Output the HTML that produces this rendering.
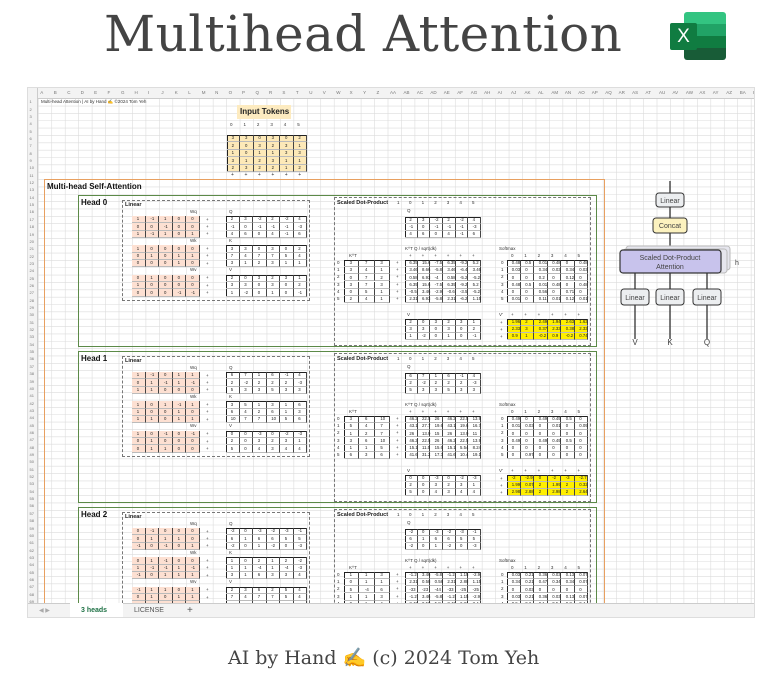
<!DOCTYPE html>
<html><head><meta charset="utf-8"><style>
body{margin:0;width:771px;height:676px;background:#fff;position:relative;overflow:hidden;font-family:"Liberation Sans",sans-serif}
.a{position:absolute;box-sizing:border-box}
.t{position:absolute;white-space:nowrap;line-height:1}
</style></head><body>
<div class="t" style="left:104px;top:9px;font-family:'DejaVu Serif',serif;font-size:50px;letter-spacing:0.4px;color:#444">Multihead Attention</div>
<div class="a" style="left:684px;top:12px;width:42px;height:48px;border-radius:3px;background:linear-gradient(#33c481 0 25%,#21a366 25% 50%,#107c41 50% 75%,#185c37 75%)"></div>
<div class="a" style="left:670px;top:23px;width:27px;height:27px;background:#107c41;border-radius:2px;color:#fff;font-size:19px;text-align:center;line-height:27px">X</div>
<div id="sheet" class="a" style="left:27px;top:87px;width:728px;height:531px;overflow:hidden;border:1px solid #ddd"></div>
<div class="t" style="left:228px;top:649px;font-family:'DejaVu Serif',serif;font-size:19px;color:#444">AI by Hand ✍ (c) 2024 Tom Yeh</div>
<script>
const S=document.getElementById('sheet');
const OX=27,OY=87;
function box(x,y,w,h,st,name){const d=document.createElement('div');d.className='a';d.style.cssText=`left:${x-OX}px;top:${y-OY}px;width:${w}px;height:${h}px;`+(st||'');


S.appendChild(d);return d;}
function txt(x,y,s,sz,st,name){const d=document.createElement('div');d.className='t';d.textContent=s;d.style.cssText=`left:${x-OX}px;top:${y-OY}px;font-size:${sz}px;`+(st||'');


S.appendChild(d);return d;}
const CW=13.45,RH=7.35,C0=37.3,R0=97.7;
let g='';
for(let c=0;c<55;c++){const x=C0+c*CW-OX;g+=`<line x1="${x}" y1="0" x2="${x}" y2="515" stroke="#dcdcdc" stroke-width="0.6"/>`;}
for(let r=0;r<72;r++){const y=R0+r*RH-OY;g+=`<line x1="0" y1="${y}" x2="728" y2="${y}" stroke="#dcdcdc" stroke-width="0.6"/>`;}
const sv=document.createElementNS('http://www.w3.org/2000/svg','svg');sv.setAttribute('width','728');sv.setAttribute('height','531');sv.style.cssText='position:absolute;left:0;top:0';sv.innerHTML=g;


S.appendChild(sv);
box(27,87,728,10.7,'background:#f3f3f3;border-bottom:1px solid #ccc','column-header-bar');
box(27,87,10.3,515,'background:#f3f3f3;border-right:1px solid #ccc','row-header-bar');
const L='ABCDEFGHIJKLMNOPQRSTUVWXYZ';
for(let c=0;c<54;c++){const n=c<26?L[c]:L[Math.floor(c/26)-1]+L[c%26];txt(C0+c*CW+2,89.5,n,4.5,'color:#777','column-label');}
for(let r=1;r<=70;r++)txt(28.5,R0+(r-1)*RH+1.5,String(r),4,'color:#777','row-label');
txt(40,99,'Multi-head Attention | AI by Hand ✍ ©2024 Tom Yeh',4.5,'color:#333','sheet-title-cell');
box(236,104,54,14,'background:#fdebc0','input-tokens-label');
txt(239,106.5,'Input Tokens',8,'font-weight:bold;color:#222','input-tokens-text');
const tokens=[[3,3,0,3,0,2],[2,0,3,2,3,1],[1,0,1,1,3,3],[3,1,2,3,1,1],[2,3,2,2,1,2]];
function mat(x,y,w,h,vals,st,name){const R=vals.length,C=vals[0].length,cw=w/C,rh=h/R;
 const b=box(x,y,w,h,'border:1px solid #222;'+(st||''),name);
 for(let i=0;i<R;i++)for(let j=0;j<C;j++){box(x+j*cw,y+i*rh,cw,rh,'border-right:0.5px solid #444;border-bottom:0.5px solid #bbb',name+'-cell');
  txt(x+j*cw+cw/2-2,y+i*rh+1.3,String(vals[i][j]),4.3,'color:#222',name+'-value');}
 return b;}
['0','1','2','3','4','5'].forEach((s,i)=>txt(229+i*13.45,122,s,4.5,'color:#333','token-index'));
mat(226,134,80,37,tokens,'background:#fde9b8','input-tokens-matrix');
for(let i=0;i<6;i++)txt(230+i*13.45,172,'+',5,'color:#333','plus-sign');
box(43,178,561,440,'border:1.5px solid #e8a060','multihead-frame');
txt(46,182,'Multi-head Self-Attention',8,'font-weight:bold;color:#111','multihead-title');
const W=[
 [[[1,-1,1,0,0],[0,0,-1,0,0],[1,-1,1,0,1]],[[1,0,0,0,0],[0,1,0,1,1],[0,0,0,1,0]],[[0,1,0,0,0],[1,0,0,0,0],[0,0,0,-1,-1]]],
 [[[1,-1,0,1,1],[0,1,-1,1,-1],[1,1,0,0,0]],[[1,0,1,-1,1],[1,0,0,1,0],[1,1,0,1,1]],[[1,0,-1,0,-1],[0,1,0,0,0],[0,1,1,0,0]]],
 [[[0,-1,0,0,0],[0,1,1,1,0],[-1,0,-1,0,1]],[[0,1,-1,0,0],[1,-1,-1,1,-1],[-1,0,1,1,1]],[[-1,1,1,0,1],[0,1,0,1,1],[1,0,0,1,0]]]];
const QKV=[
 [[[2,3,-2,2,-2,4],[-1,0,-1,-1,-1,-3],[4,6,0,4,-1,6]],[[3,3,0,3,0,2],[7,4,7,7,5,4],[3,1,2,3,1,1]],[[2,0,3,2,3,1],[3,3,0,3,0,2],[1,-2,0,1,0,-1]]],
 [[[6,7,1,6,-1,4],[2,-2,2,2,2,-3],[5,3,3,5,3,3]],[[3,5,1,3,1,6],[6,4,2,6,1,3],[10,7,7,10,5,6]],[[0,0,-3,0,-2,-3],[2,0,3,2,3,1],[5,0,4,3,4,4]]],
 [[[-2,0,-3,-2,-3,-1],[6,1,6,6,5,5],[-2,0,1,-2,0,-3]],[[1,0,2,1,2,-2],[1,1,-4,1,-4,-3],[3,1,6,3,3,4]],[[2,3,6,2,5,4],[7,4,7,7,5,4],[1,0,2,1,2,1]]]];
const KT=[[[3,7,3],[3,4,1],[0,7,2],[3,7,3],[0,5,1],[2,4,1]],[[3,6,10],[5,4,7],[1,2,7],[3,6,10],[1,1,5],[6,3,6]],[[1,1,3],[0,1,1],[5,-4,6],[1,1,3],[0,1,4],[2,1,3]]];
const SC=[[[6.35,15.6,-7.5,6.35,-9.2,5.2],[3.46,8.66,-5.8,3.46,-6.4,3.46],[0.58,6.93,-4,0.58,-5.2,-5.2],[6.35,15.6,-7.5,6.35,-9.2,5.2],[-0.5,3.46,-2.9,-0.6,-3.5,-5.2],[2.31,6.93,-5.8,2.31,-6.2,1.15]],
 [[46.2,22.5,26,46.2,22.5,13.9],[43.1,27.7,19.6,43.1,19.6,16.7],[26,13.9,15,26,13.9,11],[46.2,22.5,26,46.2,22.5,13.9],[15.1,11.5,15.6,15.1,5.54,8.24],[41.6,31.2,17.3,41.6,10.4,19.1]],
 [[-1.2,3.46,-5.8,-1.2,1.15,-2.9],[2.31,0.58,0.58,2.31,2.88,1.15],[-33,-23,-44,-33,-25,-25],[-1.2,3.46,-5.8,-1.2,1.15,-2.9],[3.46,0.58,5.8,3.46,2.31,3.4],[1.2,3.46,-5.8,1.2,1.15,2.9]]];
const SM=[[[0.48,0.5,0.01,0.48,0,0.48],[0.03,0,0.34,0.03,0.34,0.03],[0,0,0.2,0,0.12,0],[0.48,0.5,0.01,0.48,0,0.48],[0,0,0.56,0,0.71,0],[0.01,0,0.11,0.01,0.12,0.01]],
 [[0.49,0,0.49,0.49,0.5,0],[0.01,0.03,0,0.01,0,0.09],[0,0,0,0,0,0],[0.49,0,0.49,0.49,0.5,0],[0,0,0,0,0,0],[0,0.97,0,0,0,0]],
 [[0.03,0.21,0.36,0.03,0.13,0.07],[0.34,0.21,0.47,0.34,0.34,0.07],[0,0.03,0,0,0,0],[0.03,0.21,0.36,0.03,0.13,0.07],[0.5,0.2,0.1,0.5,0.3,0.4],[0.03,0.21,0.36,0.03,0.13,0.07]]];
const OUT=[[[1.96,2,2.49,1.94,2.63,1.63],[2.33,3,0.37,2.33,0.38,2.33],[0.9,1,-0.2,0.9,-0.2,0.74]],
 [[-2,-2.9,0,-2,-3,-2.7],[1.99,0.07,2,1.99,2,0.32],[2.98,2.88,2,2.98,2,2.64]],
 [[1.3,2.1,0.9,1.3,1.1,1.2],[2.4,3.1,2.2,2.4,2.9,2.5],[0.8,0.2,0.5,0.8,0.4,0.3]]];
const dash='border:1px dashed #777;';
for(let h=0;h<3;h++){
 const T=194+h*156;
 box(77,T,519,152,'border:1.5px solid #5c8a48','head-frame-'+h);
 txt(80,T+4,'Head '+h,8,'font-weight:bold;color:#111','head-title-'+h);
 box(121,T+5,188,101,dash,'linear-panel');
 txt(124,T+8,'Linear',5.5,'font-weight:bold;color:#222','linear-label');
 ['Wq','Wk','Wv'].forEach((n,k)=>{const y=T+21+k*29.4;
  txt(189,y-6.5,n,4.5,'color:#333','weight-label');
  mat(131,y,68,22,W[h][k],'background:#fde0d2;border:none','weight-matrix-'+n);
  for(let i=0;i<3;i++)txt(205,y+1.5+i*7.35,'+',4.5,'color:#333','plus-sign');
  txt(228,y-6.5,['Q','K','V'][k],4.5,'color:#333','proj-label');
  mat(225,y,81,22,QKV[h][k],'background:#fff','proj-matrix-'+['q','k','v'][k]);
 });
 box(333,T+2,257,149,dash,'scaled-dot-panel');
 txt(336,T+6,'Scaled Dot-Product',5.5,'font-weight:bold;color:#222','scaled-dot-label');
 txt(396,T+6,'1',4.5,'color:#333','scale-one');
 for(let i=0;i<6;i++)txt(408+i*12.6,T+6,String(i),4.5,'color:#333','token-index');
 txt(406,T+14,'Q',4.5,'color:#333','q-label');
 mat(404,T+22,76,21,QKV[h][0],'background:#fff','q-copy');
 txt(404,T+52,'K^T Q / sqrt(dk)',4.5,'color:#333','score-label');
 txt(348,T+59,'K^T',4.5,'color:#333','kt-label');
 txt(498,T+52,'Softmax',4.5,'color:#333','softmax-label');
 for(let i=0;i<6;i++){txt(408+i*12.6,T+59,'+',4.5,'color:#333','plus-sign');txt(510+i*13.3,T+59,String(i),4.5,'color:#333','token-index');}
 for(let i=0;i<6;i++){txt(336,T+66+i*7.2,String(i),4.5,'color:#333','row-index');txt(395,T+66+i*7.2,'+',4.5,'color:#333','plus-sign');txt(500,T+66+i*7.2,String(i),4.5,'color:#333','row-index');}
 mat(343,T+65,46,43,KT[h],'background:#fff','kt-matrix');
 mat(404,T+65,76,43,SC[h],'background:#fff','score-matrix');
 mat(506,T+65,81,43,SM[h],'background:#fff','softmax-matrix');
 txt(406,T+118,'V',4.5,'color:#333','v-label');
 txt(498,T+118,"V'",4.5,'color:#333','output-label');
 for(let i=0;i<6;i++)txt(510+i*13.3,T+118,'+',4.5,'color:#333','plus-sign');
 for(let i=0;i<3;i++)txt(499,T+126+i*7,'+',4.5,'color:#333','plus-sign');
 mat(404,T+124,76,21,QKV[h][2],'background:#fff','v-copy');
 mat(506,T+124,81,21,OUT[h],'background:#ffef00','output-matrix');
}
const dg=`<svg width="130" height="170" style="position:absolute;left:${608-OX}px;top:${180-OY}px">
<g stroke="#333" stroke-width="1.3" fill="none">
<line x1="61" y1="0" x2="61" y2="12"/><line x1="61" y1="26" x2="61" y2="37"/><line x1="61" y1="52" x2="61" y2="69"/>
<line x1="26" y1="92" x2="26" y2="108"/><line x1="61" y1="92" x2="61" y2="108"/><line x1="98" y1="92" x2="98" y2="108"/>
<line x1="26" y1="124" x2="26" y2="158"/><line x1="61" y1="124" x2="61" y2="158"/><line x1="98" y1="124" x2="98" y2="158"/>
</g>
<rect x="17" y="65" width="104" height="24" rx="3" fill="#e6e6ee" stroke="#bbb"/>
<rect x="14" y="68" width="104" height="24" rx="3" fill="#e6e6ee" stroke="#bbb"/>
<rect x="11" y="69" width="101" height="23" rx="3" fill="#c8c3ec" stroke="#333" stroke-width="1.2"/>
<text x="61" y="79" font-size="7" text-anchor="middle" fill="#444" font-family="Liberation Sans">Scaled Dot-Product</text>
<text x="61" y="88" font-size="7" text-anchor="middle" fill="#444" font-family="Liberation Sans">Attention</text>
<text x="126" y="84" font-size="7" fill="#444" font-family="Liberation Sans">h</text>
<rect x="47" y="12" width="28" height="14" rx="3" fill="#eceef0" stroke="#333"/>
<text x="61" y="22" font-size="7" text-anchor="middle" fill="#444" font-family="Liberation Sans">Linear</text>
<rect x="44" y="37" width="34" height="15" rx="3" fill="#fcf2bf" stroke="#333"/>
<text x="61" y="47" font-size="7" text-anchor="middle" fill="#444" font-family="Liberation Sans">Concat</text>
<rect x="12" y="108" width="28" height="16" rx="3" fill="#eceef0" stroke="#333"/><text x="26" y="119" font-size="7" text-anchor="middle" fill="#444" font-family="Liberation Sans">Linear</text>
<rect x="47" y="108" width="28" height="16" rx="3" fill="#eceef0" stroke="#333"/><text x="61" y="119" font-size="7" text-anchor="middle" fill="#444" font-family="Liberation Sans">Linear</text>
<rect x="84" y="108" width="28" height="16" rx="3" fill="#eceef0" stroke="#333"/><text x="98" y="119" font-size="7" text-anchor="middle" fill="#444" font-family="Liberation Sans">Linear</text>
<text x="26" y="164" font-size="8" text-anchor="middle" fill="#444" font-family="Liberation Sans">V</text>
<text x="61" y="164" font-size="8" text-anchor="middle" fill="#444" font-family="Liberation Sans">K</text>
<text x="98" y="164" font-size="8" text-anchor="middle" fill="#444" font-family="Liberation Sans">Q</text>
</svg>`;
const dw=document.createElement('div');dw.innerHTML=dg;


S.appendChild(dw);
box(27,602,728,16,'background:#f3f3f3;border-top:1px solid #ccc','sheet-tab-bar');
txt(38,607,'◀  ▶',6,'color:#aaa','tab-scroll-arrows');
const tb=box(69,602,53,16,'background:#fff;border-bottom:2px solid #1e7145','tab-3-heads');

txt(80,606,'3 heads',7,'color:#1e7145;font-weight:bold','tab-3-heads-label');
const tl=txt(133,606,'LICENSE',7,'color:#555','tab-license');

const ta=txt(186,604.5,'+',10,'color:#555','add-sheet-button');

</script>
</body></html>
